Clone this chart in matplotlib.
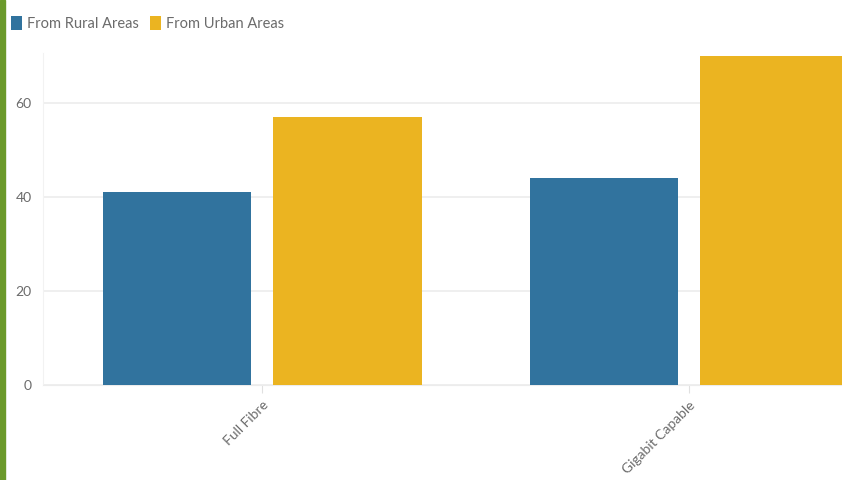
import matplotlib.pyplot as plt
import numpy as np
from matplotlib.patches import Rectangle

# data
categories = ['Full Fibre', 'Gigabit Capable']
rural = [41, 44]
urban = [57, 70]
series_names = ['From Rural Areas', 'From Urban Areas']
yticks = [0, 20, 40, 60]

blue = '#31739e'
gold = '#ebb421'
grey_txt = '#6b6b6b'

plt.rcParams['font.family'] = ['Lato', 'DejaVu Sans']

fig = plt.figure(figsize=(8.42, 4.8), dpi=100)
ax = fig.add_axes([0.051, 0.198, 0.949, 0.692])

x = np.arange(len(categories))
w = 0.347
b1 = ax.bar(x - 0.2, rural, w, color=blue, label=series_names[0], zorder=3)
b2 = ax.bar(x + 0.2, urban, w, color=gold, label=series_names[1], zorder=3)

ax.set_xlim(-0.513, 1.358)
ax.set_ylim(0, 70.6)
ax.set_yticks(yticks)
ax.set_xticks(x)
ax.set_xticklabels(categories, rotation=45, ha='right', rotation_mode='anchor')
ax.grid(axis='y', color='#ececec', linewidth=1.2, zorder=0)

for s in ['top', 'right']:
    ax.spines[s].set_visible(False)
ax.spines['left'].set_color('#f2f2f2')
ax.spines['bottom'].set_color('#ececec')
ax.tick_params(axis='y', length=0, pad=8, labelsize=10, labelcolor=grey_txt)
ax.tick_params(axis='x', length=6, color='#e0e0e0', pad=4, labelsize=10, labelcolor=grey_txt)

# green strip on the left edge
fig.patches.append(Rectangle((0, 0), 0.006, 1, transform=fig.transFigure,
                             color='#6b9a2b', zorder=10))

fig.legend(handles=[b1, b2], loc='upper left', bbox_to_anchor=(-0.002, 0.995),
           ncol=2, frameon=False, handlelength=0.75, handleheight=1.2,
           handletextpad=0.3, columnspacing=0.8, fontsize=10.5, labelcolor=grey_txt)

fig.savefig('out.png', dpi=100)
